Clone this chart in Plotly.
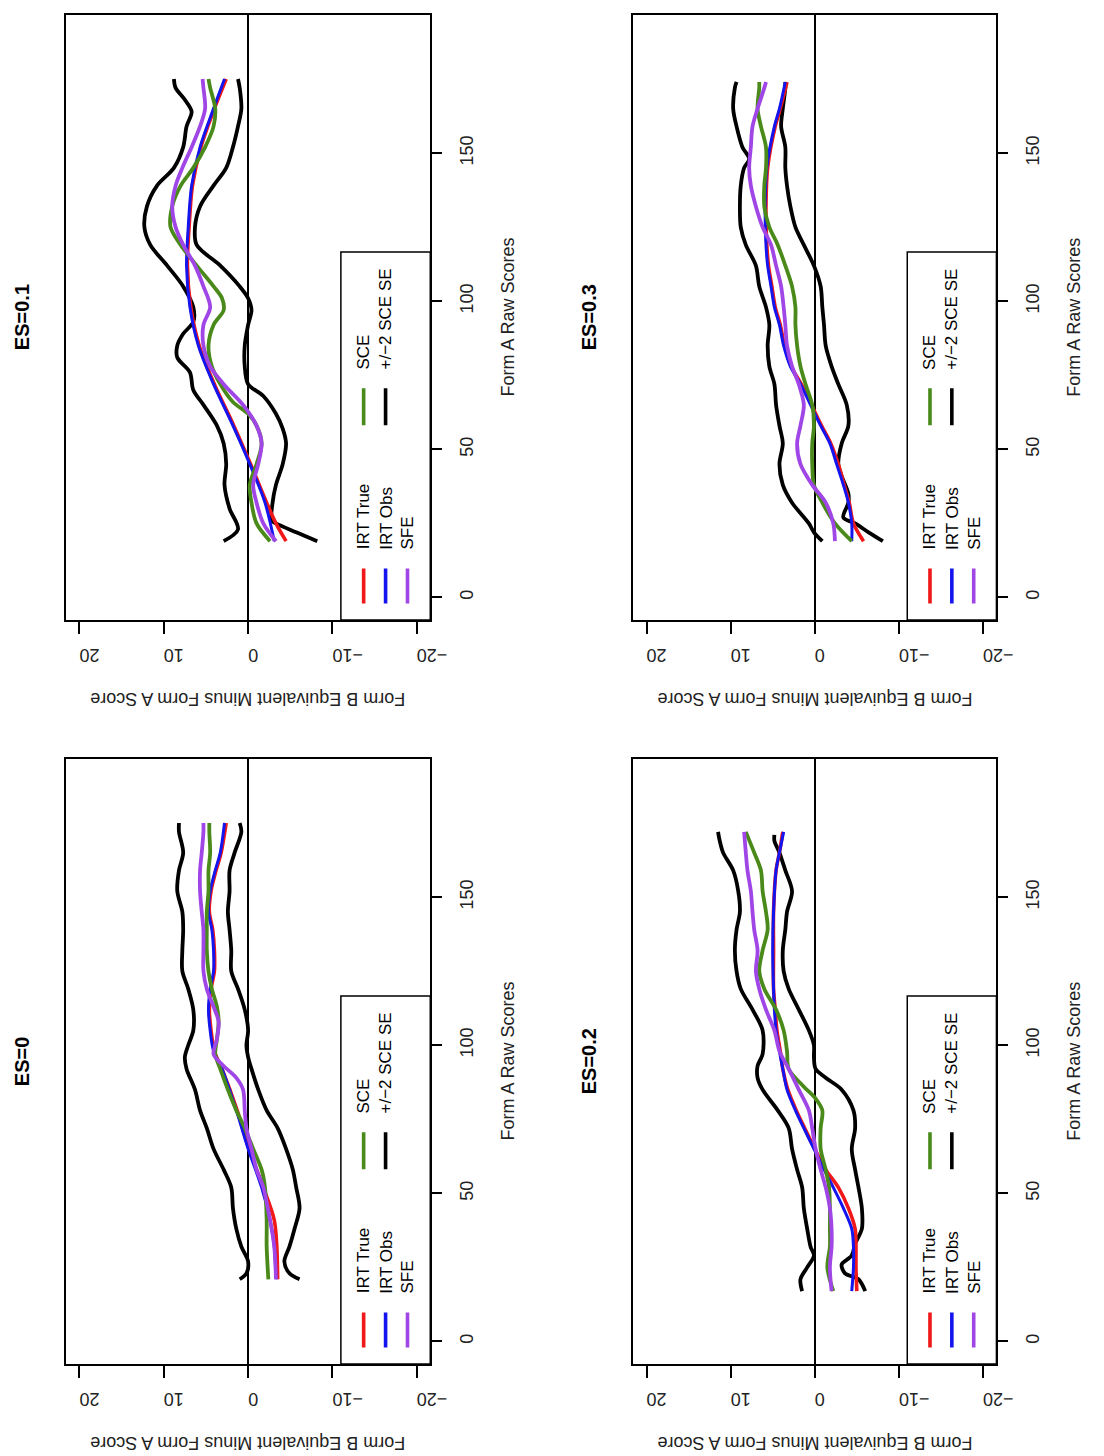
import plotly.graph_objects as go

# ---------------- data ----------------
PANEL_TITLES = ["ES=0", "ES=0.1", "ES=0.2", "ES=0.3"]
SCORE_TICKS = [0, 50, 100, 150]
DIFF_TICKS = [20, 10, 0, -10, -20]
DIFF_TICK_TEXT = ["20", "10", "0", "\u221210", "\u221220"]
LEGEND_COL1 = ["IRT True", "IRT Obs", "SFE"]
LEGEND_COL2 = ["SCE", "+/\u22122 SCE SE"]

# ES = 0
es0_up_x = [21, 23, 27, 32, 38, 45, 52, 58, 65, 72, 78, 85, 92, 96, 100, 105, 112, 119, 125, 132, 139, 145, 152, 159, 165, 172, 175]
es0_up_y = [1.0, 0.2, 0.0, 0.8, 1.4, 1.8, 2.0, 2.9, 4.1, 4.9, 5.7, 6.3, 7.3, 7.5, 7.1, 6.5, 6.5, 7.1, 7.8, 7.8, 7.7, 7.8, 8.4, 8.2, 7.7, 8.2, 8.2]
es0_lo_x = es0_up_x
es0_lo_y = [-6.1, -4.9, -4.3, -4.9, -5.5, -6.1, -5.7, -5.3, -4.5, -3.5, -2.2, -1.2, -0.4, 0.0, 0.2, 0.0, 0.4, 1.2, 2.0, 2.0, 2.2, 2.4, 2.2, 2.2, 1.6, 0.8, 1.0]
es0_sce_x = [21, 32, 41, 52, 58, 65, 72, 78, 85, 92, 97, 102, 108, 113, 119, 125, 132, 139, 145, 152, 159, 165, 172, 175]
es0_sce_y = [-2.4, -2.2, -2.2, -2.0, -1.6, -0.6, 0.4, 1.4, 2.4, 3.3, 3.9, 3.7, 3.5, 3.7, 4.3, 4.7, 4.9, 4.9, 4.9, 4.7, 4.7, 4.5, 4.6, 4.6]
es0_sfe_x = [21, 32, 41, 52, 58, 65, 72, 78, 85, 89, 93, 97, 102, 108, 113, 119, 125, 132, 139, 145, 152, 159, 165, 172, 175]
es0_sfe_y = [-3.3, -3.1, -2.6, -1.8, -1.0, -0.4, 0.2, 0.4, 0.6, 1.4, 2.9, 4.1, 3.7, 3.5, 4.1, 4.9, 5.3, 5.3, 5.3, 5.5, 5.7, 5.7, 5.5, 5.3, 5.3]
es0_irt_x = [21, 32, 41, 52, 65, 78, 92, 98, 105, 112, 119, 125, 132, 139, 145, 152, 159, 165, 175]
es0_obs_y = [-3.3, -3.1, -2.6, -1.6, 0.0, 1.4, 3.1, 4.1, 4.5, 4.7, 4.5, 4.1, 4.1, 4.3, 4.7, 4.5, 3.9, 3.3, 2.8]
es0_true_y = [-3.5, -3.4, -3.1, -1.8, -0.1, 1.3, 3.1, 4.0, 4.4, 4.6, 4.4, 4.0, 4.0, 4.2, 4.6, 4.4, 3.8, 3.2, 2.6]

# ES = 0.1
es1_up_x = [19, 23, 30, 38, 45, 52, 58, 65, 70, 76, 81, 85, 89, 93, 98, 105, 112, 119, 125, 132, 139, 145, 152, 159, 164, 168, 172, 175]
es1_up_y = [2.9, 1.2, 2.2, 2.8, 2.6, 2.9, 3.7, 5.3, 6.5, 6.9, 8.4, 8.4, 7.7, 6.5, 6.5, 7.7, 9.6, 11.6, 12.3, 12.0, 10.8, 8.8, 7.7, 7.3, 6.7, 7.5, 8.6, 8.8]
es1_lo_x = [19, 22, 25, 26, 32, 38, 45, 52, 57, 62, 68, 72, 78, 85, 92, 97, 101, 105, 112, 119, 125, 132, 139, 145, 152, 159, 165, 172, 175]
es1_lo_y = [-8.2, -5.7, -3.3, -2.8, -2.9, -3.3, -4.1, -4.5, -4.1, -3.3, -1.8, 0.0, 0.4, 0.4, 0.0, -0.4, 0.0, 1.0, 3.3, 6.1, 6.3, 5.7, 4.1, 2.6, 1.8, 1.2, 0.8, 1.0, 1.2]
es1_sce_x = [19, 25, 32, 38, 45, 52, 58, 62, 66, 72, 78, 85, 92, 97, 101, 105, 112, 119, 125, 132, 139, 145, 152, 159, 165, 172, 175]
es1_sce_y = [-2.6, -1.0, -0.4, -0.2, -1.0, -1.6, -1.0, 0.0, 1.8, 3.3, 4.3, 4.7, 4.1, 2.9, 3.1, 4.1, 6.1, 8.0, 9.2, 9.0, 8.0, 6.5, 5.1, 4.1, 3.9, 4.5, 4.7]
es1_sfe_x = [19, 25, 32, 38, 45, 52, 58, 65, 72, 78, 85, 92, 98, 105, 112, 119, 125, 132, 139, 145, 152, 159, 165, 172, 175]
es1_sfe_y = [-3.3, -1.8, -1.0, -0.6, -1.2, -1.6, -1.0, 0.6, 2.9, 4.5, 5.3, 5.3, 4.5, 5.3, 6.3, 7.7, 8.6, 9.0, 8.6, 7.8, 6.7, 5.7, 5.1, 5.3, 5.4]
es1_obs_x = [19, 32, 45, 58, 72, 85, 98, 112, 125, 139, 152, 165, 175]
es1_obs_y = [-3.1, -2.0, -0.2, 1.8, 4.1, 5.9, 6.9, 7.3, 7.1, 6.7, 5.7, 4.1, 2.8]
es1_true_x = [19, 25, 32, 45, 58, 72, 85, 98, 112, 125, 139, 152, 165, 175]
es1_true_y = [-4.5, -3.3, -2.2, -0.3, 1.7, 4.0, 5.8, 6.8, 7.2, 7.0, 6.6, 5.6, 4.0, 2.6]

# ES = 0.2
es2_up_x = [17, 21, 25, 29, 32, 38, 45, 52, 58, 65, 72, 78, 85, 89, 93, 97, 105, 112, 119, 125, 132, 139, 145, 152, 159, 165, 169, 172]
es2_up_y = [1.5, 1.7, 0.9, 0.1, 0.5, 0.9, 1.3, 1.5, 2.1, 2.7, 3.1, 4.4, 6.2, 6.8, 6.8, 6.2, 6.2, 7.4, 8.8, 9.3, 9.5, 9.3, 8.9, 9.1, 9.7, 10.9, 11.3, 11.5]
es2_lo_x = [17, 21, 23, 26, 29, 33, 38, 45, 52, 58, 65, 72, 78, 85, 89, 92, 96, 100, 105, 112, 119, 125, 132, 139, 145, 152, 159, 165, 169, 171]
es2_lo_y = [-6.0, -5.2, -3.6, -3.2, -4.4, -4.8, -5.6, -5.6, -5.2, -4.8, -4.4, -4.8, -4.6, -3.2, -1.3, -0.1, 0.1, 0.1, 0.7, 1.9, 3.1, 3.7, 3.8, 3.5, 3.3, 2.7, 3.5, 4.2, 4.8, 4.8]
es2_sce_x = [17, 25, 32, 38, 45, 52, 58, 65, 72, 78, 82, 86, 92, 98, 105, 112, 119, 125, 132, 139, 145, 152, 159, 165, 172]
es2_sce_y = [-2.2, -1.5, -1.8, -1.8, -1.8, -1.7, -1.3, -0.7, -0.7, -0.9, -0.1, 1.3, 3.1, 3.3, 3.7, 4.6, 6.0, 6.6, 6.2, 5.6, 5.8, 6.2, 6.4, 7.2, 8.2]
es2_sfe_x = [17, 25, 32, 38, 45, 52, 58, 65, 72, 78, 85, 92, 98, 105, 112, 119, 125, 132, 139, 145, 152, 159, 165, 172]
es2_sfe_y = [-2.0, -1.8, -2.0, -2.0, -1.8, -1.3, -0.7, -0.1, 0.3, 0.7, 1.9, 3.1, 4.2, 4.8, 5.8, 6.6, 7.0, 6.8, 7.2, 7.4, 7.6, 8.0, 8.2, 8.4]
es2_irt_x = [17, 25, 32, 38, 45, 52, 58, 65, 72, 78, 85, 92, 98, 105, 112, 119, 132, 145, 159, 165, 172]
es2_obs_y = [-4.4, -4.6, -4.6, -4.4, -3.4, -2.2, -1.1, 0.1, 1.3, 2.3, 3.3, 3.8, 4.2, 4.6, 4.8, 4.9, 5.0, 4.9, 4.6, 4.2, 3.7]
es2_true_y = [-5.0, -4.9, -4.9, -4.8, -4.0, -2.8, -1.3, 0.0, 1.2, 2.2, 3.2, 3.8, 4.1, 4.5, 4.7, 4.9, 4.9, 4.9, 4.6, 4.2, 3.8]

# ES = 0.3
es3_up_x = [19, 22, 25, 32, 38, 45, 52, 58, 65, 72, 78, 85, 92, 98, 105, 112, 119, 125, 132, 139, 145, 148, 152, 159, 165, 172, 174]
es3_up_y = [-0.9, 0.1, 0.7, 2.7, 3.8, 4.2, 3.8, 4.2, 4.6, 4.8, 5.4, 5.6, 5.4, 5.8, 6.6, 7.0, 8.2, 8.8, 8.9, 8.8, 8.4, 7.8, 8.6, 9.3, 9.7, 9.5, 9.3]
es3_lo_x = [19, 22, 25, 27, 32, 35, 41, 45, 52, 58, 65, 72, 78, 85, 92, 98, 105, 112, 119, 125, 132, 139, 145, 152, 159, 165, 172, 174]
es3_lo_y = [-8.1, -6.4, -4.8, -3.4, -4.0, -4.0, -3.2, -2.8, -3.2, -4.0, -3.8, -2.8, -2.0, -1.3, -1.1, -0.9, -0.7, 0.1, 1.3, 2.3, 2.9, 3.3, 3.5, 3.5, 4.0, 3.8, 3.5, 3.5]
es3_mid_x = [19, 25, 32, 38, 45, 52, 58, 65, 72, 78, 85, 92, 98, 105, 112, 119, 125, 132, 139, 145, 152, 159, 165, 172, 174]
es3_sce_y = [-4.4, -2.4, -0.9, 0.1, 0.3, 0.3, 0.1, 0.3, 1.1, 1.7, 2.1, 2.3, 2.3, 2.7, 3.5, 4.4, 5.4, 6.0, 6.0, 5.8, 5.8, 6.4, 6.8, 6.6, 6.6]
es3_sfe_y = [-2.4, -2.2, -1.3, 0.3, 1.7, 2.1, 1.7, 1.3, 1.9, 2.7, 3.3, 3.5, 3.7, 4.0, 4.6, 5.2, 6.2, 7.0, 7.6, 7.8, 7.6, 7.4, 6.8, 6.0, 5.8]
es3_irt_x = [19, 25, 32, 38, 45, 52, 58, 65, 72, 78, 85, 92, 98, 105, 112, 119, 132, 145, 159, 165, 174]
es3_obs_y = [-4.4, -4.4, -4.0, -3.4, -2.6, -1.8, -0.7, 0.5, 1.7, 2.9, 3.7, 4.2, 4.8, 5.2, 5.6, 5.8, 5.9, 5.7, 4.8, 4.2, 3.5]
es3_true_y = [-5.8, -4.6, -4.1, -3.5, -2.8, -1.9, -0.8, 0.4, 1.6, 2.8, 3.6, 4.1, 4.7, 5.1, 5.5, 5.7, 5.8, 5.6, 4.7, 4.1, 3.3]

# ---------------- styling / layout ----------------
W, H = 1104, 1456
FONT = "Liberation Sans, Arial, Helvetica, sans-serif"
C_RED, C_BLUE, C_PURPLE, C_GREEN, C_BLACK = "#F01818", "#1414EE", "#A046E6", "#4A8A1A", "#000000"

DIFF_RANGE = [21.6, -21.6]
SCORE_RANGE = [-7.6, 196.6]

# pixel boxes of the plot areas (left, right, top, bottom)
COLS = [(67, 437), (643, 1012)]
ROWS = [(15, 620), (759, 1364)]
# panel -> (col, row)
PANEL_POS = [(0, 1), (0, 0), (1, 1), (1, 0)]

def px_x(p):
    return p / W

def px_y(p):
    return 1 - p / H

panels = [
    dict(up=(es0_up_x, es0_up_y), lo=(es0_lo_x, es0_lo_y), sce=(es0_sce_x, es0_sce_y),
         sfe=(es0_sfe_x, es0_sfe_y), true=(es0_irt_x, es0_true_y), obs=(es0_irt_x, es0_obs_y)),
    dict(up=(es1_up_x, es1_up_y), lo=(es1_lo_x, es1_lo_y), sce=(es1_sce_x, es1_sce_y),
         sfe=(es1_sfe_x, es1_sfe_y), true=(es1_true_x, es1_true_y), obs=(es1_obs_x, es1_obs_y)),
    dict(up=(es2_up_x, es2_up_y), lo=(es2_lo_x, es2_lo_y), sce=(es2_sce_x, es2_sce_y),
         sfe=(es2_sfe_x, es2_sfe_y), true=(es2_irt_x, es2_true_y), obs=(es2_irt_x, es2_obs_y)),
    dict(up=(es3_up_x, es3_up_y), lo=(es3_lo_x, es3_lo_y), sce=(es3_mid_x, es3_sce_y),
         sfe=(es3_mid_x, es3_sfe_y), true=(es3_irt_x, es3_true_y), obs=(es3_irt_x, es3_obs_y)),
]

fig = go.Figure()
layout = dict(
    width=W, height=H, margin=dict(l=0, r=0, t=0, b=0),
    paper_bgcolor="white", plot_bgcolor="white", showlegend=False,
    font=dict(family=FONT, size=18, color="black"),
)
shapes, annotations = [], []

series_style = [
    ("up", C_BLACK, 3.8), ("lo", C_BLACK, 3.8), ("true", C_RED, 3.6),
    ("obs", C_BLUE, 3.0), ("sce", C_GREEN, 3.8), ("sfe", C_PURPLE, 3.8),
]

for i, pdata in enumerate(panels):
    k = i + 1
    xa = "x" if k == 1 else f"x{k}"
    ya = "y" if k == 1 else f"y{k}"
    col, row = PANEL_POS[i]
    left, right = COLS[col]
    top, bottom = ROWS[row]

    # curves: score on the vertical axis, difference on the horizontal axis
    for key, color, width in series_style:
        sx, sy = pdata[key]
        fig.add_trace(go.Scatter(
            x=sy, y=sx, xaxis=xa, yaxis=ya, mode="lines",
            line=dict(color=color, width=width, shape="spline", smoothing=0.9),
            hoverinfo="skip"))

    axis_common = dict(showgrid=False, showline=True, mirror=True, linecolor="black",
                       linewidth=1.5, ticks="outside", tickcolor="black", tickwidth=1.5,
                       tickfont=dict(family=FONT, size=18, color="#222"))
    layout["xaxis" if k == 1 else f"xaxis{k}"] = dict(
        domain=[px_x(left), px_x(right)], anchor=ya, range=DIFF_RANGE,
        tickvals=DIFF_TICKS, ticktext=DIFF_TICK_TEXT, tickangle=180, ticklen=12,
        ticklabelstandoff=12, zeroline=True, zerolinecolor="black", zerolinewidth=1.5,
        side="bottom", **axis_common)
    layout["yaxis" if k == 1 else f"yaxis{k}"] = dict(
        domain=[px_y(bottom), px_y(top)], anchor=xa, range=SCORE_RANGE,
        tickvals=SCORE_TICKS, tickangle=-90, ticklen=10, ticklabelstandoff=9,
        zeroline=False, side="right", **axis_common)

    # legend box (bottom-left in the un-rotated chart)
    shapes.append(dict(type="rect", xref=xa, yref=ya, x0=-11.0, x1=DIFF_RANGE[1],
                       y0=SCORE_RANGE[0], y1=116.6, line=dict(color="black", width=1.5)))
    row_pos = [-13.7, -16.3, -18.9]
    for j, (lab, color) in enumerate(zip(LEGEND_COL1, [C_RED, C_BLUE, C_PURPLE])):
        shapes.append(dict(type="line", xref=xa, yref=ya, x0=row_pos[j], x1=row_pos[j],
                           y0=-2.0, y1=9.8, line=dict(color=color, width=3.6)))
        annotations.append(dict(text=lab, xref=xa, yref=ya, x=row_pos[j], y=15.5,
                                xanchor="center", yanchor="bottom", textangle=-90,
                                showarrow=False, font=dict(family=FONT, size=17, color="black")))
    for j, (lab, color) in enumerate(zip(LEGEND_COL2, [C_GREEN, C_BLACK])):
        shapes.append(dict(type="line", xref=xa, yref=ya, x0=row_pos[j], x1=row_pos[j],
                           y0=58.1, y1=70.6, line=dict(color=color, width=3.6)))
        annotations.append(dict(text=lab, xref=xa, yref=ya, x=row_pos[j], y=76.3,
                                xanchor="center", yanchor="bottom", textangle=-90,
                                showarrow=False, font=dict(family=FONT, size=17, color="black")))

    cy = (top + bottom) / 2
    cx = (left + right) / 2
    annotations.append(dict(text="<b>" + PANEL_TITLES[i] + "</b>", xref="paper", yref="paper",
                            x=px_x(left - 45), y=px_y(cy), xanchor="center", yanchor="middle",
                            textangle=-90, showarrow=False,
                            font=dict(family=FONT, size=20, color="black")))
    annotations.append(dict(text="Form A Raw Scores", xref="paper", yref="paper",
                            x=px_x(right + 78), y=px_y(cy), xanchor="center", yanchor="middle",
                            textangle=-90, showarrow=False,
                            font=dict(family=FONT, size=18, color="#222")))
    annotations.append(dict(text="Form B Equivalent Minus Form A Score", xref="paper", yref="paper",
                            x=px_x(cx), y=px_y(bottom + 79), xanchor="center", yanchor="middle",
                            textangle=180, showarrow=False,
                            font=dict(family=FONT, size=18, color="#222")))

layout["shapes"] = shapes
layout["annotations"] = annotations
fig.update_layout(**layout)
fig.write_html("out.html")
